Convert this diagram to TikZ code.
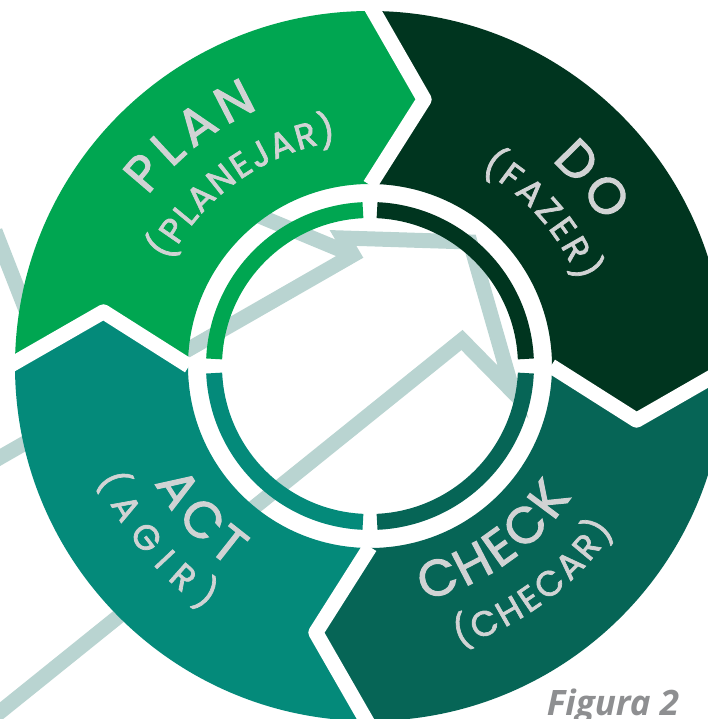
\documentclass[tikz,border=0pt]{standalone}
\usepackage{fontspec}
\setmainfont{Poppins}
\newfontfamily\labelfont{Poppins}[FakeBold=2]
\newfontfamily\figfont{Open Sans}
\usetikzlibrary{decorations.text}

\definecolor{plangreen}{HTML}{00A651}
\definecolor{dogreen}{HTML}{00351F}
\definecolor{checkgreen}{HTML}{066556}
\definecolor{actgreen}{HTML}{048A7A}
\definecolor{trendgray}{HTML}{B9D4D1}
\definecolor{labelgray}{HTML}{D1D3D4}
\definecolor{figgray}{HTML}{8E8F91}

\begin{document}
\begin{tikzpicture}[x=1pt,y=1pt,
  trend/.style={draw=trendgray,line width=15pt,miter limit=10},
  gapline/.style={draw=white,line width=15pt,line join=round},
  innerarc/.style={line width=16pt},
  bigword/.style={decorate,decoration={text along path,text align=fit to path,
    text={|\color{labelgray}\labelfont\fontsize{51}{51}\selectfont|#1}}},
  smallword/.style={decorate,decoration={text along path,text align=fit to path,
    text={|\color{labelgray}\labelfont\fontsize{35}{35}\selectfont|#1}}}]
\useasboundingbox (-370,-353) rectangle (338,366);

% trend arrow behind the cycle
\draw[trend] (-385,-358) -- (92,26) -- (143,-26) -- (100,124) -- (-27,128) -- (-17,111) -- (-385,-100);
\draw[trend] (-130,158) -- (-17,111);
\draw[trend] (-375,135) -- (-330,20);

% the four arrows of the cycle
\foreach \a/\c in {180/plangreen,90/dogreen,0/checkgreen,-90/actgreen}
  \fill[fill=\c] (\a:355) arc[start angle=\a,end angle=\a-90,radius=355]
    -- (\a-101.5:272) -- (\a-90:182)
    arc[start angle=\a-90,end angle=\a,radius=182]
    -- (\a-11.5:272) -- cycle;
\foreach \a in {180,90,0,-90}
  \draw[gapline] (\a:361) -- (\a-11.5:272) -- (\a:181);

% inner ring
\foreach \a/\c in {90/plangreen,0/dogreen,270/checkgreen,180/actgreen}
  \draw[innerarc,color=\c] (\a+2.6:156) arc[start angle=\a+2.6,end angle=\a+87.4,radius=156];

% labels
\path[bigword=PLAN] (142.5:280) arc[start angle=142.5,end angle=113.5,radius=280];
\path[smallword={(PLANEJAR)}] (152.5:227) arc[start angle=152.5,end angle=98.5,radius=227];
\path[bigword=DO] (48.5:274) arc[start angle=48.5,end angle=31.5,radius=274];
\path[smallword={(FAZER)}] (60.5:225) arc[start angle=60.5,end angle=22,radius=225];
\path[bigword=CHECK] (283:240) arc[start angle=283,end angle=327,radius=240];
\path[smallword={(CHECAR)}] (287.5:294) arc[start angle=287.5,end angle=326,radius=294];
\path[bigword=ACT] (208.5:245) arc[start angle=208.5,end angle=235,radius=245];
\path[smallword={(AGIR)}] (202.5:294) arc[start angle=202.5,end angle=236,radius=294];

\node[anchor=base,text=figgray,font=\figfont\bfseries\itshape\fontsize{35}{35}\selectfont] (figlabel) at (243,-349) {Figura 2};
\end{tikzpicture}
\end{document}
